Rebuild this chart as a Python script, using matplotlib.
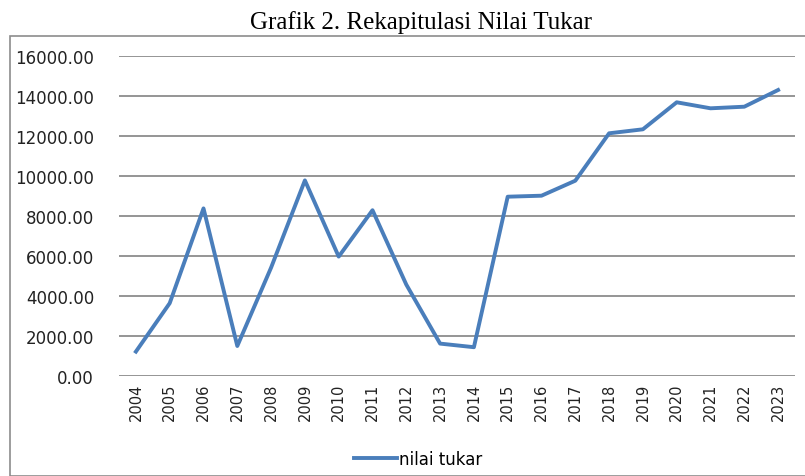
import matplotlib.pyplot as plt
from matplotlib.patches import Rectangle

# Nilai tukar per tahun
years = ['2004', '2005', '2006', '2007', '2008', '2009', '2010', '2011', '2012', '2013',
         '2014', '2015', '2016', '2017', '2018', '2019', '2020', '2021', '2022', '2023']
nilai_tukar = [1220, 3640, 8380, 1500, 5420, 9780, 5970, 8290, 4570, 1620,
               1440, 8965, 9015, 9765, 12135, 12335, 13685, 13385, 13465, 14300]
y_ticks = [0, 2000, 4000, 6000, 8000, 10000, 12000, 14000, 16000]

fig = plt.figure(figsize=(8.05, 4.77), dpi=100)
# outer chart frame
fig.patches.append(Rectangle((10 / 805, 0), 1.0, 1 - 37 / 477, transform=fig.transFigure,
                             fill=False, edgecolor='#8c8c8c', linewidth=1.2))
fig.text(421 / 805, 1 - 23 / 477, 'Grafik 2. Rekapitulasi Nilai Tukar', ha='center', va='center',
         family='Liberation Serif', fontsize=18)

ax = fig.add_axes([119 / 805, 1 - 377 / 477, (795 - 119) / 805, (377 - 57) / 477])
x = list(range(len(years)))
ax.plot(x, nilai_tukar, color='#4a7ebb', linewidth=2.8, label='nilai tukar')
ax.set_xlim(-0.5, len(years) - 0.5)
ax.set_ylim(0, 16000)
ax.set_yticks(y_ticks)
ax.set_yticklabels([f'{v:.2f}' for v in y_ticks], fontsize=12, color='#222222')
ax.set_xticks(x)
ax.set_xticklabels(years, rotation=90, fontsize=10.5, color='#222222')
ax.yaxis.grid(True, color='#8c8c8c', linewidth=1.3)
ax.set_axisbelow(True)
for s in ax.spines.values():
    s.set_visible(False)
ax.tick_params(length=0, pad=18, axis='y')
ax.tick_params(length=0, pad=5, axis='x')

fig.legend(loc='center', bbox_to_anchor=(418 / 805, 1 - 460 / 477), frameon=False,
           fontsize=12, handlelength=2.6, handletextpad=0.1)

fig.savefig('out.png', dpi=100)
